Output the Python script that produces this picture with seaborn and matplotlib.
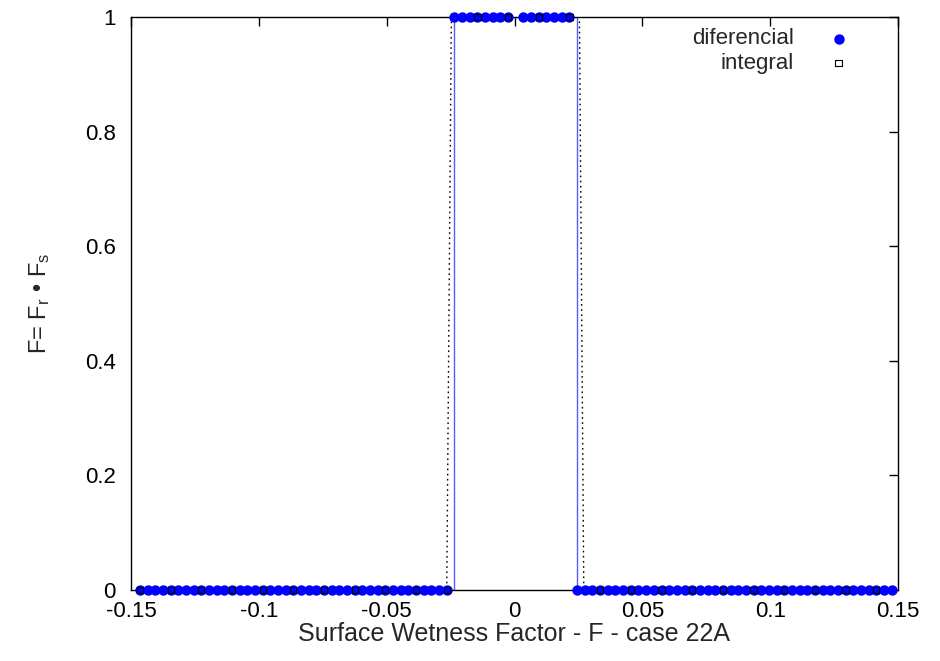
import matplotlib
matplotlib.use("Agg")
import matplotlib.pyplot as plt
import seaborn as sns
import pandas as pd

# ---------------- data ----------------
# differential: sampled every 0.003 (the point near x=0 is absent)
diff_x = [-0.1465, -0.1435, -0.1405, -0.1375, -0.1345, -0.1315, -0.1285, -0.1255, -0.1225, -0.1195,
          -0.1165, -0.1135, -0.1105, -0.1075, -0.1045, -0.1015, -0.0985, -0.0955, -0.0925, -0.0895,
          -0.0865, -0.0835, -0.0805, -0.0775, -0.0745, -0.0715, -0.0685, -0.0655, -0.0625, -0.0595,
          -0.0565, -0.0535, -0.0505, -0.0475, -0.0445, -0.0415, -0.0385, -0.0355, -0.0325, -0.0295,
          -0.0265, -0.0235, -0.0205, -0.0175, -0.0145, -0.0115, -0.0085, -0.0055, -0.0025,
          0.0035, 0.0065, 0.0095, 0.0125, 0.0155, 0.0185, 0.0215, 0.0245, 0.0275,
          0.0305, 0.0335, 0.0365, 0.0395, 0.0425, 0.0455, 0.0485, 0.0515, 0.0545, 0.0575,
          0.0605, 0.0635, 0.0665, 0.0695, 0.0725, 0.0755, 0.0785, 0.0815, 0.0845, 0.0875,
          0.0905, 0.0935, 0.0965, 0.0995, 0.1025, 0.1055, 0.1085, 0.1115, 0.1145, 0.1175,
          0.1205, 0.1235, 0.1265, 0.1295, 0.1325, 0.1355, 0.1385, 0.1415, 0.1445, 0.1475]
diff_y = [0, 0, 0, 0, 0, 0, 0, 0, 0, 0,
          0, 0, 0, 0, 0, 0, 0, 0, 0, 0,
          0, 0, 0, 0, 0, 0, 0, 0, 0, 0,
          0, 0, 0, 0, 0, 0, 0, 0, 0, 0,
          0, 1, 1, 1, 1, 1, 1, 1, 1,
          1, 1, 1, 1, 1, 1, 1, 0, 0,
          0, 0, 0, 0, 0, 0, 0, 0, 0, 0,
          0, 0, 0, 0, 0, 0, 0, 0, 0, 0,
          0, 0, 0, 0, 0, 0, 0, 0, 0, 0,
          0, 0, 0, 0, 0, 0, 0, 0, 0, 0]

# integral: markers every 0.012
int_x = [-0.1465, -0.1345, -0.1225, -0.1105, -0.0985, -0.0865, -0.0745, -0.0625, -0.0505,
         -0.0385, -0.0265, -0.0145, -0.0025, 0.0095, 0.0215, 0.0335, 0.0455, 0.0575,
         0.0695, 0.0815, 0.0935, 0.1055, 0.1175, 0.1295, 0.1415]
int_y = [0, 0, 0, 0, 0, 0, 0, 0, 0,
         0, 0, 1, 1, 1, 1, 0, 0, 0,
         0, 0, 0, 0, 0, 0, 0]
# integral curve (dotted line) vertices
int_line_x = [-0.1465, -0.0265, -0.0247, 0.0254, 0.0271, 0.1415]
int_line_y = [0, 0, 1, 1, 0, 0]

xticks = [-0.15, -0.1, -0.05, 0, 0.05, 0.1, 0.15]
xtick_labels = ["-0.15", "-0.1", "-0.05", "0", "0.05", "0.1", "0.15"]
yticks = [0, 0.2, 0.4, 0.6, 0.8, 1]
ytick_labels = ["0", "0.2", "0.4", "0.6", "0.8", "1"]

# ---------------- styling ----------------
sns.set_style("white")
plt.rcParams["font.family"] = ["Liberation Sans", "DejaVu Sans"]
plt.rcParams["mathtext.fontset"] = "custom"
plt.rcParams["mathtext.rm"] = "Liberation Sans"
plt.rcParams["mathtext.it"] = "Liberation Sans:italic"
plt.rcParams["axes.unicode_minus"] = False

fig = plt.figure(figsize=(9.40, 6.61), dpi=100)
ax = fig.add_axes([131 / 940, 1 - 590 / 661, (898 - 131) / 940, (590 - 17) / 661])

diff_df = pd.DataFrame({"x": diff_x, "y": diff_y})
int_df = pd.DataFrame({"x": int_x, "y": int_y})
int_line_df = pd.DataFrame({"x": int_line_x, "y": int_line_y})

# lines
sns.lineplot(data=diff_df, x="x", y="y", ax=ax, drawstyle="steps-post", sort=False,
             estimator=None, color="#5a5aff", lw=1.0, zorder=2, legend=False)
sns.lineplot(data=int_line_df, x="x", y="y", ax=ax, sort=False, estimator=None,
             color="black", lw=1.0, linestyle=(0, (1.2, 2.5)), zorder=2, legend=False)

# markers
sns.scatterplot(data=diff_df, x="x", y="y", ax=ax, marker="o", s=56, color="#0000ff",
                linewidth=0, zorder=3, clip_on=False, label="diferencial")
sns.scatterplot(data=int_df, x="x", y="y", ax=ax, marker="s", s=20, facecolor="none",
                edgecolor="black", linewidth=0.8, zorder=4, clip_on=False, label="integral")

ax.set_xlim(-0.15, 0.15)
ax.set_ylim(0, 1)
ax.set_xticks(xticks)
ax.set_xticklabels(xtick_labels)
ax.set_yticks(yticks)
ax.set_yticklabels(ytick_labels)
ax.tick_params(axis="both", direction="in", length=6.5, width=1, color="black",
               labelsize=16, labelcolor="black", top=True, right=True)
ax.tick_params(axis="x", pad=8)
ax.tick_params(axis="y", pad=11)
for sp in ax.spines.values():
    sp.set_visible(True)
    sp.set_color("black")
    sp.set_linewidth(1.0)

ax.set_xlabel("Surface Wetness Factor - F - case 22A", fontsize=18, labelpad=0)
ax.set_ylabel(r"F= F$_\mathrm{r}$ • F$_\mathrm{s}$", fontsize=17, labelpad=24)

ax.legend(loc="upper right", bbox_to_anchor=(0.937, 0.98), frameon=False,
          markerfirst=False, fontsize=16, handlelength=1.0, handletextpad=1.5,
          labelspacing=0.15, borderpad=0, borderaxespad=0)

fig.savefig("out.png", dpi=100, facecolor="white")
